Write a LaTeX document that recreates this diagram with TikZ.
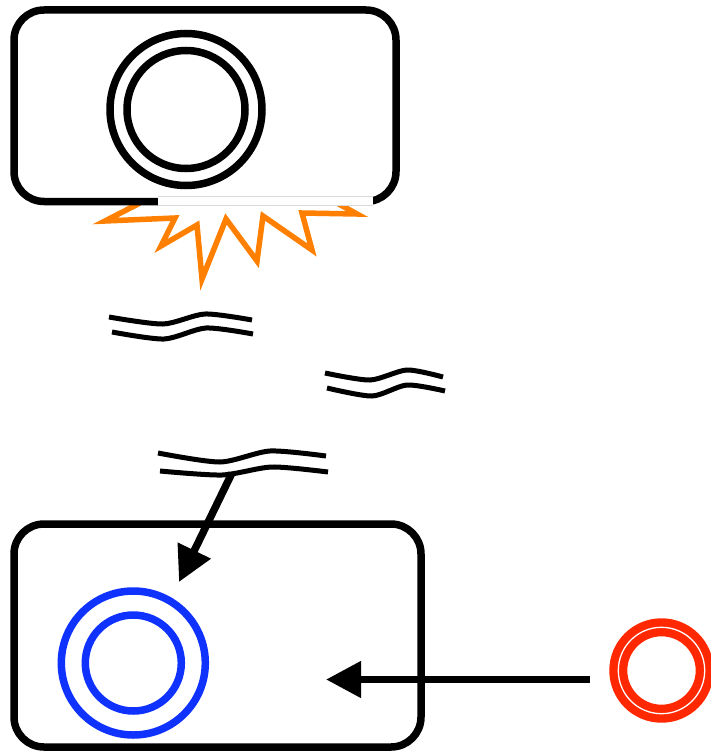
\documentclass[tikz,border=0pt]{standalone}
\usetikzlibrary{arrows.meta}
\definecolor{burst}{RGB}{255,128,0}
\definecolor{ringblue}{RGB}{15,50,255}
\definecolor{ringred}{RGB}{255,40,0}
\tikzset{
  frame/.style={draw=black,line width=7.5pt,rounded corners=30pt},
  ring/.style={line width=7.5pt},
  wave/.style={line width=5pt},
  bigarrow/.style={line width=7.5pt,-{Triangle[length=35pt,width=35pt]}},
}
\begin{document}
\begin{tikzpicture}[x=1pt,y=-1pt]
\useasboundingbox (0,0) rectangle (710,752);
% starburst (lower part, upper part hidden behind the box)
\draw[burst,line width=5.5pt,line join=miter,miter limit=20]
  (140,203) -- (105,221) -- (175,218) -- (161,246) -- (197,225) -- (202,279)
  -- (226,219) -- (257,261) -- (263,216) -- (312,250) -- (302,213) -- (357,214) -- (337,203);
% top box
\draw[frame] (14,10) rectangle (396,201.5);
\fill[white] (158,196.5) rectangle (373,205.5);
\draw[gray!30,line width=0.6pt] (158,196.5) -- (373,196.5) (158,205.5) -- (373,205.5);
% top double circle
\coordinate (ctop) at (186,109.5);
\draw[ring] (ctop) circle[radius=76];
\draw[ring] (ctop) circle[radius=59];
% waves
\draw[wave] plot[smooth,tension=0.45] coordinates {(109,317) (163,324) (205,314) (252,320)};
\draw[wave] plot[smooth,tension=0.45] coordinates {(112,332) (164,339) (206,328) (253,334)};
\draw[wave] plot[smooth,tension=0.45] coordinates {(325,373) (370,380) (407,370) (443,377)};
\draw[wave] plot[smooth,tension=0.45] coordinates {(327,388) (372,396) (407,385) (445,391)};
\draw[wave] plot[smooth,tension=0.45] coordinates {(158,453) (220,462) (270,451) (326,456)};
\draw[wave] plot[smooth,tension=0.45] coordinates {(160,471) (222,475) (272,467) (328,472)};
% bottom box
\draw[frame] (14,524) rectangle (421,747);
% blue double circle
\coordinate (cblue) at (133.3,663);
\draw[ring,ringblue] (cblue) circle[radius=72];
\draw[ring,ringblue] (cblue) circle[radius=48];
% red double circle
\coordinate (cred) at (661.5,670.5);
\draw[ringred,line width=18pt] (cred) circle[radius=43.2];
\draw[white,line width=1.3pt] (cred) circle[radius=43.2];
% arrows
\coordinate (wavefoot) at (232,473);
\coordinate (boxin) at (179,582);
\draw[bigarrow] (wavefoot) -- (boxin);
\coordinate (redstart) at (590,679.5);
\coordinate (boxright) at (326,679.5);
\draw[bigarrow] (redstart) -- (boxright);
\end{tikzpicture}
\end{document}
